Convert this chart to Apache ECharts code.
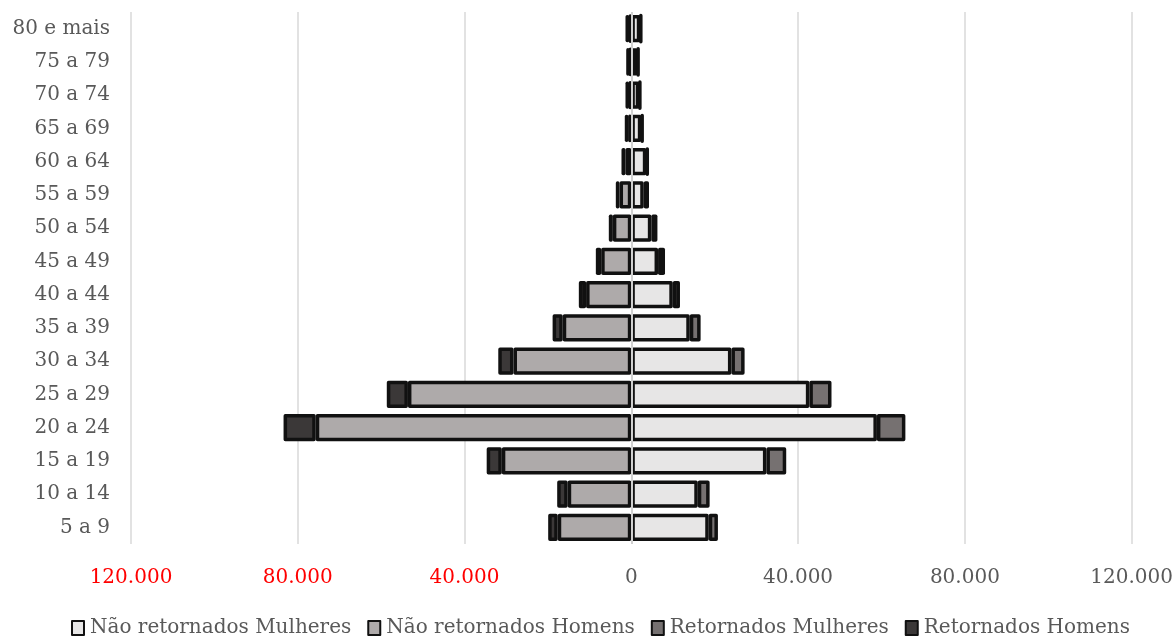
<!DOCTYPE html>
<html>
<head>
<meta charset="utf-8">
<script src="https://cdn.jsdelivr.net/npm/echarts@6/dist/echarts.min.js"></script>
<style>
  html, body { margin: 0; padding: 0; background: #ffffff; }
  #chart { width: 1176px; height: 637px; }
</style>
</head>
<body>
<div id="chart"></div>
<script>
// Faixas etárias, de baixo para cima
const faixas = ['5 a 9', '10 a 14', '15 a 19', '20 a 24', '25 a 29', '30 a 34', '35 a 39', '40 a 44',
  '45 a 49', '50 a 54', '55 a 59', '60 a 64', '65 a 69', '70 a 74', '75 a 79', '80 e mais'];

// Mulheres (lado direito)
const naoRetornadosMulheres = [18570, 15940, 32400, 58900, 42700, 24010, 14020, 9950, 6410, 4800, 2980, 3600, 2400, 1900, 1500, 2150];
const retornadosMulheres = [2200, 2840, 4750, 6830, 5310, 3160, 2600, 1720, 1670, 1460, 1260, 450, 400, 300, 250, 250];

// Homens (lado esquerdo, desenhados como valores negativos)
const naoRetornadosHomens = [17650, 15260, 31060, 75690, 53580, 28260, 16450, 10850, 7230, 4430, 2830, 1390, 700, 550, 450, 500];
const retornadosHomens = [2290, 2520, 3630, 7720, 5070, 3650, 2430, 1740, 1280, 970, 890, 970, 870, 850, 710, 900];

const eixoMin = -120000, eixoMax = 120000, eixoPasso = 40000;

const FONT = 'DejaVu Serif';
const TXT = '#595959';

function milhar(v) {
  return String(Math.abs(v)).replace(/\B(?=(\d{3})+(?!\d))/g, '.');
}

function barra(nome, dados, cor, extra) {
  return Object.assign({
    name: nome,
    type: 'bar',
    stack: 'piramide',
    barCategoryGap: '18%',
    data: dados,
    itemStyle: { color: cor, borderColor: '#111111', borderWidth: 3.5, borderJoin: 'round' },
    emphasis: { disabled: true }
  }, extra || {});
}

const chart = echarts.init(document.getElementById('chart'), null, { renderer: 'canvas' });

chart.setOption({
  animation: false,
  backgroundColor: '#ffffff',
  textStyle: { fontFamily: FONT },
  grid: { left: 131, right: 43, top: 12, bottom: 93, containLabel: false },
  xAxis: {
    type: 'value',
    min: eixoMin,
    max: eixoMax,
    interval: eixoPasso,
    axisLine: { show: false },
    axisTick: { show: false },
    splitLine: { show: true, lineStyle: { color: '#D9D9D9', width: 1.5 } },
    axisLabel: {
      margin: 24,
      fontFamily: FONT,
      fontSize: 20,
      color: TXT,
      formatter: function (v) {
        return v < 0 ? '{neg|' + milhar(v) + '}' : milhar(v);
      },
      rich: { neg: { color: '#FF0000', fontFamily: FONT, fontSize: 20 } }
    }
  },
  yAxis: {
    type: 'category',
    data: faixas,
    axisLine: { show: false },
    axisTick: { show: false },
    splitLine: { show: false },
    axisLabel: { margin: 21, fontFamily: FONT, fontSize: 20, color: TXT }
  },
  legend: {
    top: 613,
    left: 66,
    itemWidth: 12,
    itemHeight: 14,
    itemGap: 16,
    icon: 'rect',
    textStyle: { fontFamily: FONT, fontSize: 20, color: TXT, padding: [0, 0, 0, 1] },
    data: ['Não retornados Mulheres', 'Não retornados Homens', 'Retornados Mulheres', 'Retornados Homens']
  },
  series: [
    barra('Não retornados Mulheres', naoRetornadosMulheres, '#E7E6E6'),
    barra('Não retornados Homens', naoRetornadosHomens.map(v => -v), '#AEAAAA'),
    barra('Retornados Mulheres', retornadosMulheres, '#767171'),
    barra('Retornados Homens', retornadosHomens.map(v => -v), '#3B3838', {
      markLine: {
        silent: true,
        symbol: 'none',
        label: { show: false },
        lineStyle: { color: '#D0D0D0', width: 2, type: 'solid' },
        data: [{ xAxis: 0 }]
      }
    })
  ]
});
</script>
</body>
</html>
